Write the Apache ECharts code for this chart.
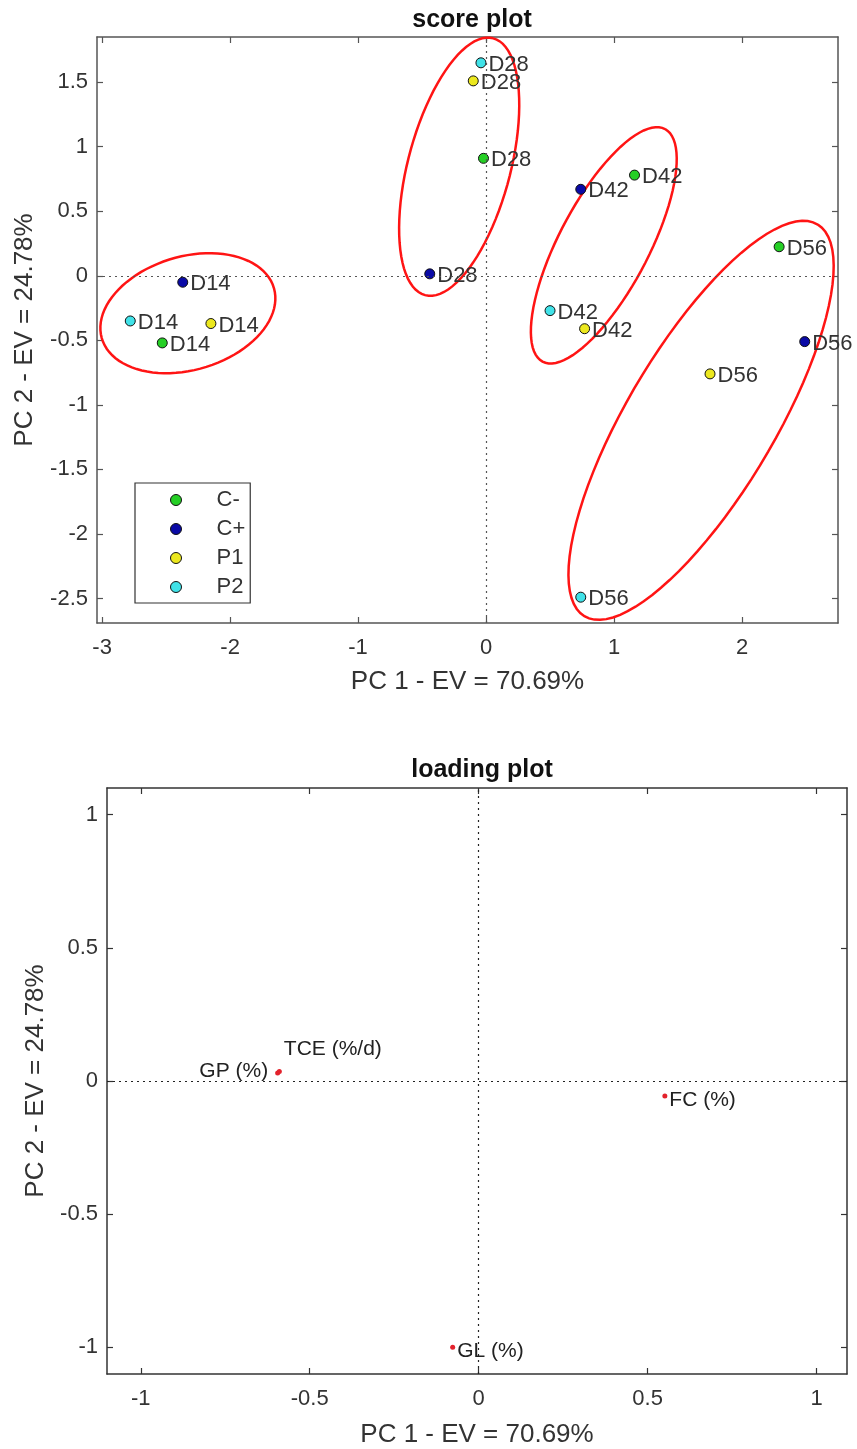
<!DOCTYPE html>
<html>
<head>
<meta charset="utf-8">
<title>score plot / loading plot</title>
<script src="https://cdn.jsdelivr.net/npm/echarts@6/dist/echarts.min.js"></script>
<style>
  html, body { margin: 0; padding: 0; background: #fff; }
  #chart { width: 857px; height: 1449px; }
</style>
</head>
<body>
<div id="chart"></div>
<script>
// ---- score plot data ----
var days = ['D14', 'D28', 'D42', 'D56'];
var groups = ['C-', 'C+', 'P1', 'P2'];
var cMinusX = [-2.53, -0.02, 1.16, 2.29];
var cMinusY = [-0.52, 0.91, 0.78, 0.225];
var cPlusX = [-2.37, -0.44, 0.74, 2.49];
var cPlusY = [-0.05, 0.015, 0.67, -0.51];
var p1X = [-2.15, -0.10, 0.77, 1.75];
var p1Y = [-0.37, 1.51, -0.41, -0.76];
var p2X = [-2.78, -0.04, 0.50, 0.74];
var p2Y = [-0.35, 1.65, -0.27, -2.49];
var scoreXTicks = [-3, -2, -1, 0, 1, 2];
var scoreYTicks = [-2.5, -2, -1.5, -1, -0.5, 0, 0.5, 1, 1.5];

// grouping ellipses (centre, semi axes, tilt in degrees)
var ellipseCx = [-2.33, -0.21, 0.92, 1.68];
var ellipseCy = [-0.29, 0.845, 0.236, -1.12];
var ellipseA = [0.70, 1.03, 1.02, 1.77];
var ellipseB = [0.44, 0.40, 0.35, 0.575];
var ellipseAngle = [16, 75, 62, 59];

// ---- loading plot data ----
var loadNames = ['GP (%)', 'TCE (%/d)', 'FC (%)', 'GL (%)'];
var loadX = [-0.595, -0.59, 0.551, -0.077];
var loadY = [0.03, 0.036, -0.056, -1.0];
var loadXTicks = [-1, -0.5, 0, 0.5, 1];
var loadYTicks = [-1, -0.5, 0, 0.5, 1];

var FONT = '"Liberation Sans", Arial, sans-serif';
var groupColors = ['#25cf25', '#0a0aa6', '#ece81e', '#40e2e8'];

var labelPlace = {
    'GP (%)': { position: 'left', distance: 7, offset: [0, -2] },
    'TCE (%/d)': { position: 'right', distance: 2, offset: [0, -22] },
    'FC (%)': { position: 'right', distance: 2, offset: [0, 4] },
    'GL (%)': { position: 'right', distance: 2, offset: [0, 4] }
};

function axis(dir, grid, pos, min, max, ticks, lineColor, withLabels, name, nameGap) {
    var a = {
        type: 'value',
        gridIndex: grid,
        position: pos,
        min: min,
        max: max,
        axisLine: { show: true, onZero: false, lineStyle: { color: lineColor, width: 1.5 } },
        axisTick: { show: true, inside: true, length: 6, customValues: ticks,
            lineStyle: { color: lineColor, width: 1.2 } },
        axisLabel: { show: withLabels, customValues: ticks, fontSize: 22, color: '#333',
            fontFamily: FONT, margin: dir === 'x' ? 14 : 9 },
        splitLine: { show: false }
    };
    if (name) {
        a.name = name;
        a.nameLocation = 'middle';
        a.nameGap = nameGap;
        a.nameTextStyle = { fontSize: 26, color: '#333', fontFamily: FONT };
    }
    return a;
}

function scoreSeries(gi, xs, ys) {
    return {
        name: groups[gi],
        type: 'scatter',
        xAxisIndex: 0,
        yAxisIndex: 0,
        symbolSize: 10,
        z: 4,
        itemStyle: { color: groupColors[gi], borderColor: '#111', borderWidth: 1, opacity: 1 },
        label: { show: true, position: 'right', distance: 2, offset: [0, 2], formatter: '{b}',
            fontSize: 22, color: '#333', fontFamily: FONT },
        data: xs.map(function (x, i) { return { name: days[i], value: [x, ys[i]] }; })
    };
}

var zeroLine = {
    silent: true,
    symbol: ['none', 'none'],
    label: { show: false },
    emphasis: { disabled: true },
    data: [{ xAxis: 0 }, { yAxis: 0 }]
};

var series = [
    scoreSeries(0, cMinusX, cMinusY),
    scoreSeries(1, cPlusX, cPlusY),
    scoreSeries(2, p1X, p1Y),
    scoreSeries(3, p2X, p2Y)
];
series[0].markLine = Object.assign({}, zeroLine, {
    lineStyle: { type: [2, 4], color: '#555', width: 1.2 }
});

// ellipses drawn in data space through the axes
series.push({
    type: 'custom',
    xAxisIndex: 0,
    yAxisIndex: 0,
    z: 3,
    silent: true,
    data: ellipseCx.map(function (c, i) { return [c, ellipseCy[i], i]; }),
    renderItem: function (params, api) {
        var i = api.value(2);
        var th = ellipseAngle[i] * Math.PI / 180;
        var pts = [];
        for (var k = 0; k <= 90; k++) {
            var t = k / 90 * 2 * Math.PI;
            var dx = ellipseA[i] * Math.cos(t), dy = ellipseB[i] * Math.sin(t);
            pts.push(api.coord([
                ellipseCx[i] + dx * Math.cos(th) - dy * Math.sin(th),
                ellipseCy[i] + dx * Math.sin(th) + dy * Math.cos(th)
            ]));
        }
        return { type: 'polyline', shape: { points: pts },
            style: { stroke: '#ff1414', lineWidth: 2.5, fill: null } };
    }
});

series.push({
    type: 'scatter',
    xAxisIndex: 2,
    yAxisIndex: 2,
    symbolSize: 5,
    itemStyle: { color: '#e3222c', opacity: 1 },
    label: { show: true, formatter: '{b}', fontSize: 21, color: '#222', fontFamily: FONT },
    markLine: Object.assign({}, zeroLine, {
        lineStyle: { type: [2, 4], color: '#222', width: 1.2 }
    }),
    data: loadNames.map(function (n, i) {
        var lab = Object.assign({ show: true, fontSize: 21, color: '#222', fontFamily: FONT }, labelPlace[n]);
        return { name: n, value: [loadX[i], loadY[i]], label: lab };
    })
});

var option = {
    animation: false,
    backgroundColor: '#fff',
    title: [
        { text: 'score plot', left: 467, top: 3, textAlign: 'center',
            textStyle: { fontSize: 25, fontWeight: 'bold', color: '#111', fontFamily: FONT } },
        { text: 'loading plot', left: 477, top: 753, textAlign: 'center',
            textStyle: { fontSize: 25, fontWeight: 'bold', color: '#111', fontFamily: FONT } }
    ],
    grid: [
        { left: 97, top: 37, width: 741, height: 586 },
        { left: 107, top: 788, width: 740, height: 586 }
    ],
    legend: {
        data: groups,
        orient: 'vertical',
        left: 135,
        top: 483,
        padding: [6, 5, 5, 35],
        itemGap: 7,
        itemWidth: 11,
        itemHeight: 11,
        icon: 'circle',
        borderColor: '#333',
        borderWidth: 1.2,
        backgroundColor: '#fff',
        itemStyle: { borderColor: '#111', borderWidth: 1 },
        textStyle: { fontSize: 22, lineHeight: 21, color: '#333', fontFamily: FONT,
            padding: [0, 0, 0, 30] },
        selectedMode: false,
        z: 10
    },
    xAxis: [
        axis('x', 0, 'bottom', -3.04, 2.75, scoreXTicks, '#555', true, 'PC 1 - EV = 70.69%', 46),
        axis('x', 0, 'top', -3.04, 2.75, scoreXTicks, '#555', false),
        axis('x', 1, 'bottom', -1.1, 1.09, loadXTicks, '#333', true, 'PC 1 - EV = 70.69%', 48),
        axis('x', 1, 'top', -1.1, 1.09, loadXTicks, '#333', false)
    ],
    yAxis: [
        axis('y', 0, 'left', -2.69, 1.85, scoreYTicks, '#555', true, 'PC 2 - EV = 24.78%', 59),
        axis('y', 0, 'right', -2.69, 1.85, scoreYTicks, '#555', false),
        axis('y', 1, 'left', -1.1, 1.1, loadYTicks, '#333', true, 'PC 2 - EV = 24.78%', 57),
        axis('y', 1, 'right', -1.1, 1.1, loadYTicks, '#333', false)
    ],
    series: series
};

echarts.init(document.getElementById('chart'), null, { renderer: 'canvas' }).setOption(option);
</script>
</body>
</html>
